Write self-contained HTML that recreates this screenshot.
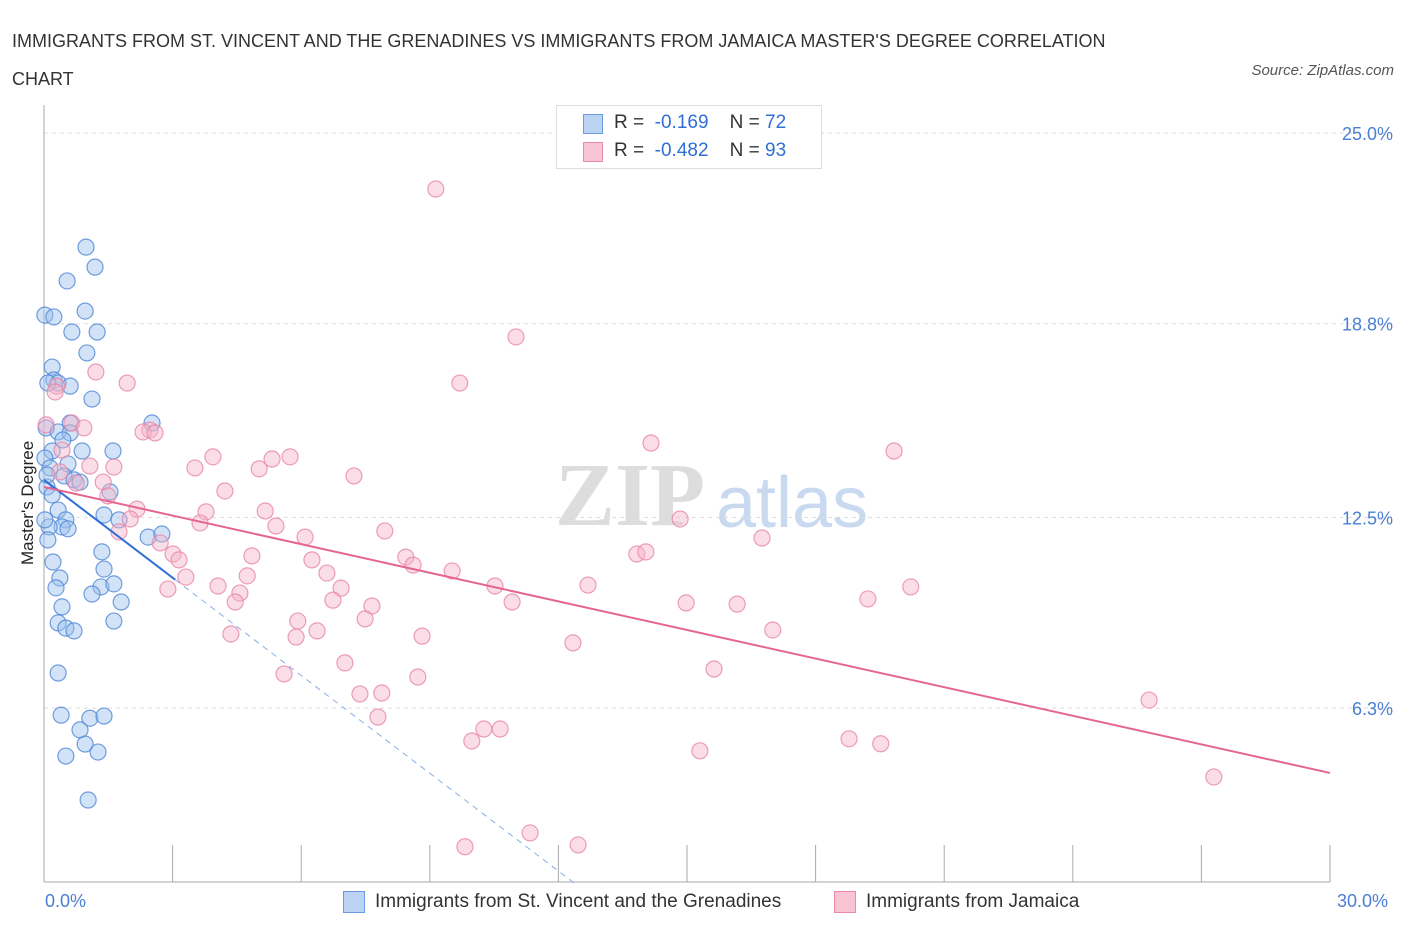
<!DOCTYPE html>
<html><head><meta charset="utf-8"><style>
body{margin:0;background:#fff;font-family:"Liberation Sans",sans-serif;}
#wrap{position:relative;width:1406px;height:930px;overflow:hidden;}
.t{position:absolute;white-space:nowrap;}
</style></head><body>
<div id="wrap">
<div class="t" style="left:12px;top:22px;font-size:18px;color:#333;line-height:38px;">IMMIGRANTS FROM ST. VINCENT AND THE GRENADINES VS IMMIGRANTS FROM JAMAICA MASTER'S DEGREE CORRELATION<br>CHART</div>
<div class="t" style="right:12px;top:62px;font-size:15px;color:#555;font-style:italic;">Source: ZipAtlas.com</div>
<svg id="svg" width="1406" height="930" style="position:absolute;left:0;top:0"></svg>
</div>
<script>
const xTicks=[0,3,6,9,12,15,18,21,24,27,30];
const yGrid=[25,18.8,12.5,6.3];
const yLabels=["25.0%","18.8%","12.5%","6.3%"];
const blueX=[0.98,1.19,0.54,0.02,0.23,0.96,0.65,1.24,1.00,0.19,0.23,0.33,0.61,0.09,1.12,2.52,0.05,0.61,0.33,0.61,0.89,1.61,0.19,0.02,0.56,0.14,0.47,0.70,1.54,0.84,0.07,0.33,0.51,0.42,0.56,0.12,1.40,1.75,2.43,2.75,1.35,0.21,1.40,0.37,0.28,1.33,1.63,1.12,1.80,0.42,0.33,0.51,0.70,1.63,0.33,0.40,1.07,1.40,0.84,0.96,0.51,1.26,1.03,0.07,0.02,0.19,0.44,0.09];
const blueY=[21.29,20.64,20.19,19.08,19.02,19.21,18.53,18.53,17.85,17.39,16.97,16.87,16.77,16.87,16.35,15.57,15.41,15.57,15.28,15.25,14.66,14.66,14.66,14.43,14.24,14.11,13.85,13.72,13.33,13.65,13.49,12.74,12.42,12.19,12.13,12.19,12.58,12.42,11.86,11.96,11.38,11.05,10.82,10.53,10.21,10.24,10.34,10.01,9.75,9.59,9.07,8.90,8.81,9.13,7.44,6.07,5.97,6.04,5.59,5.13,4.74,4.87,3.31,13.88,12.42,13.23,15.02,11.77];
const pinkX=[9.14,11.01,9.70,1.94,1.21,0.30,0.26,0.65,0.93,2.47,2.31,2.59,14.16,19.83,0.42,1.07,1.63,3.94,3.52,5.32,5.74,5.02,7.23,1.38,0.75,4.22,2.17,1.49,3.78,2.01,5.16,3.64,5.41,6.09,7.95,14.84,16.75,2.71,1.75,3.01,3.15,4.85,6.25,8.44,8.61,9.52,13.83,14.04,2.89,3.31,4.06,4.74,6.60,6.93,10.52,12.69,20.22,4.57,4.46,6.74,7.65,10.92,14.98,16.17,19.22,5.92,7.49,4.36,5.88,6.37,8.82,12.34,17.00,7.02,5.60,8.72,15.63,7.37,7.88,7.79,25.78,10.26,10.64,9.98,15.30,18.78,19.52,27.29,11.34,12.46,9.82,0.05,0.37];
const pinkY=[23.18,18.37,16.87,16.87,17.23,16.77,16.58,15.57,15.41,15.34,15.28,15.25,14.92,14.66,14.69,14.17,14.14,14.47,14.11,14.40,14.47,14.08,13.85,13.65,13.62,13.36,12.77,13.20,12.68,12.45,12.71,12.32,12.22,11.86,12.06,12.45,11.83,11.67,12.03,11.31,11.12,11.25,11.12,11.21,10.95,10.76,11.31,11.38,10.17,10.56,10.27,10.60,10.69,10.20,10.27,10.30,10.24,10.04,9.75,9.81,9.62,9.75,9.72,9.68,9.85,9.13,9.20,8.71,8.61,8.81,8.64,8.42,8.84,7.77,7.41,7.31,7.57,6.76,6.79,6.01,6.56,5.62,5.62,5.23,4.91,5.30,5.14,4.06,2.24,1.85,1.79,15.51,13.98];
const blueTrend=[13.72,-1.06]; // intercept, slope
const pinkTrend=[13.49,-0.31];
const X=v=>44+v*(1286/30), Y=v=>901.8-v*30.75;
const svg=document.getElementById('svg'),NS='http://www.w3.org/2000/svg';
function mk(t,a,p){const e=document.createElementNS(NS,t);for(const k in a)e.setAttribute(k,a[k]);(p||svg).appendChild(e);return e;}
// watermark
let wm=mk('text',{x:555,y:525,'font-size':90,fill:'#ddd','font-family':'Liberation Serif, serif','font-weight':'bold'});wm.textContent='ZIP';


let wm2=mk('text',{x:716,y:527,'font-size':72,fill:'#c9daf0','font-family':'Liberation Sans, sans-serif'});wm2.textContent='atlas';


yGrid.forEach((v,i)=>{
 const g=mk('line',{x1:44,x2:1395,y1:Y(v),y2:Y(v),stroke:'#ddd','stroke-dasharray':'4,4'});
 
 
 const t=mk('text',{x:1393,y:Y(v)+7,'text-anchor':'end','font-size':18,fill:'#4a7fd4'});t.textContent=yLabels[i];
 
 
});
const ax=mk('line',{x1:44,x2:44,y1:105,y2:882,stroke:'#aaa'});


const bx=mk('line',{x1:44,x2:1330,y1:882,y2:882,stroke:'#aaa'});


xTicks.forEach(v=>{const l=mk('line',{x1:X(v),x2:X(v),y1:845,y2:882,stroke:'#aaa'});
 
 });
function pts(xs,ys,fill,stroke,name){xs.forEach((x,i)=>{const c=mk('circle',{cx:X(x),cy:Y(ys[i]),r:8,fill:fill,'fill-opacity':0.45,stroke:stroke,'stroke-width':1.2,'stroke-opacity':0.8});
 
 });}
pts(blueX,blueY,'#9cc0ee','#4f86d6','point-st-vincent');
pts(pinkX,pinkY,'#f5b3c8','#e886a6','point-jamaica');
// trends
const bEnd=3.06, bZero=(blueTrend[0]-0.6)/-blueTrend[1];
const bl=mk('line',{x1:X(0),y1:Y(blueTrend[0]),x2:X(bEnd),y2:Y(blueTrend[0]+blueTrend[1]*bEnd),stroke:'#2f6fd6','stroke-width':2});


const bd=mk('line',{x1:X(bEnd),y1:Y(blueTrend[0]+blueTrend[1]*bEnd),x2:X(bZero),y2:Y(0.6),stroke:'#8aaee6','stroke-width':1,'stroke-dasharray':'6,5'});


const pl=mk('line',{x1:X(0),y1:Y(pinkTrend[0]),x2:X(30),y2:Y(pinkTrend[0]+pinkTrend[1]*30),stroke:'#e4668f','stroke-width':2});


</script>
<div class="t" style="left:18px;top:565px;transform:rotate(-90deg);transform-origin:0 0;font-size:17px;color:#222;">Master's Degree</div>
<div class="t" style="left:45px;top:891px;font-size:18px;color:#4a7fd4;">0.0%</div>
<div class="t" style="left:1337px;top:891px;font-size:18px;color:#4a7fd4;">30.0%</div>
<div style="position:absolute;left:556px;top:105px;width:264px;height:62px;border:1px solid #ddd;background:#fff;font-size:19px;">
 <div class="t" style="left:26px;top:8px;width:18px;height:18px;background:#bcd3f3;border:1px solid #6a9be0;"></div>
 <div class="t" style="left:57px;top:6px;color:#333;">R = &nbsp;<span style="color:#2f6fd6">-0.169</span>&nbsp;&nbsp;&nbsp; N = <span style="color:#2f6fd6">72</span></div>
 <div class="t" style="left:26px;top:36px;width:18px;height:18px;background:#f8c4d4;border:1px solid #e88aa8;"></div>
 <div class="t" style="left:57px;top:34px;color:#333;">R = &nbsp;<span style="color:#2f6fd6">-0.482</span>&nbsp;&nbsp;&nbsp; N = <span style="color:#2f6fd6">93</span></div>
</div>
<div class="t" style="left:343px;top:891px;width:20px;height:20px;background:#bcd3f3;border:1px solid #6a9be0;"></div>
<div class="t" style="left:375px;top:891px;font-size:19px;color:#333;">Immigrants from St. Vincent and the Grenadines</div>
<div class="t" style="left:834px;top:891px;width:20px;height:20px;background:#f8c4d4;border:1px solid #e88aa8;"></div>
<div class="t" style="left:866px;top:891px;font-size:19px;color:#333;">Immigrants from Jamaica</div>
</body></html>
